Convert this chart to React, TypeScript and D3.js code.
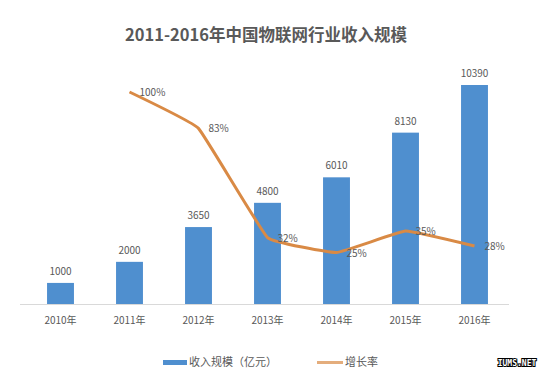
import React from "react";
import * as d3 from "d3";

const years = ["2010年", "2011年", "2012年", "2013年", "2014年", "2015年", "2016年"];
const revenue = [1000, 2000, 3650, 4800, 6010, 8130, 10390];
const growthYears = ["2011年", "2012年", "2013年", "2014年", "2015年", "2016年"];
const growth = [100, 83, 32, 25, 35, 28];
const title = "2011-2016年中国物联网行业收入规模";
const legendLabels = ["收入规模（亿元）", "增长率"];

const W = 550, H = 379;
const BLUE = "#4f8fcf";
const ORANGE = "#d98a45";
const TXT = "#595959";
const FONT = "'Noto Sans CJK SC', 'Open Sans', sans-serif";

export default function App() {
  const x = d3.scaleBand<string>().domain(years).range([26, 509]).paddingInner(0.61).paddingOuter(0.305);
  const y = d3.scaleLinear().domain([0, 10390]).range([304, 85]);
  const y2 = d3.scaleLinear().domain([0, 100]).range([306, 92]);
  const cx = (k: string) => (x(k) ?? 0) + x.bandwidth() / 2;
  const pts: [number, number][] = growthYears.map((k, i) => [cx(k), y2(growth[i])]);
  const line = d3.line().curve(d3.curveCardinal.tension(0.75))(pts) ?? "";

  return (
    <svg width={W} height={H} style={{ position: "absolute", left: 0, top: 0, background: "#fff" }} fontFamily={FONT}>
      <rect width={W} height={H} fill="#fff" />
      <text x={266} y={41} textAnchor="middle" fontSize={16.5} fontWeight="bold" fill={TXT}>{title}</text>
      <line x1={20} x2={509} y1={304.5} y2={304.5} stroke="#d9d9d9" strokeWidth={1} />
      {years.map((k, i) => (
        <g key={k}>
          <rect x={x(k)} y={y(revenue[i])} width={x.bandwidth()} height={y(0) - y(revenue[i])} fill={BLUE} />
          <text x={cx(k)} y={y(revenue[i]) - 8} textAnchor="middle" fontSize={10} fill={TXT}>{revenue[i]}</text>
          <text x={cx(k)} y={324} textAnchor="middle" fontSize={10} fill={TXT}>{k}</text>
        </g>
      ))}
      <path d={line} fill="none" stroke={ORANGE} strokeWidth={3} strokeLinejoin="round" />
      {growthYears.map((k, i) => (
        <text key={k} x={cx(k) + 10} y={y2(growth[i]) + 4} fontSize={10} fill={TXT}>{growth[i]}%</text>
      ))}
      <rect x={163} y={360} width={24} height={5} fill={BLUE} />
      <text x={189} y={366} fontSize={11} fill={TXT}>{legendLabels[0]}</text>
      <rect x={317} y={361} width={26} height={3} fill={ORANGE} opacity={0.7} />
      <text x={345} y={366} fontSize={11} fill={TXT}>{legendLabels[1]}</text>
      <text x={517} y={366} textAnchor="middle" fontSize={8} fontWeight="bold" fill="#fff" stroke="#000" strokeWidth={2} paintOrder="stroke" fontFamily="'DejaVu Sans Mono', monospace">IUMS.NET</text>
    </svg>
  );
}
